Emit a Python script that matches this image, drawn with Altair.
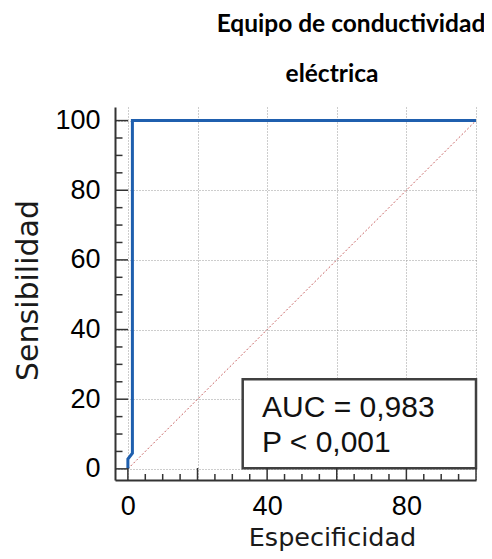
import altair as alt
import pandas as pd

# ROC curve values (100 - specificity, sensitivity)
fpr = [0, 0, 1.3, 1.3, 100]
tpr = [0, 2.8, 4.5, 100, 100]
step = [0, 1, 2, 3, 4]
diag_x = [0, 100]
diag_y = [0, 100]
major_ticks = [0, 20, 40, 60, 80, 100]
minor_ticks = [5, 10, 15, 25, 30, 35, 45, 50, 55, 65, 70, 75, 85, 90, 95]
auc_text = ["AUC = 0,983", "P < 0,001"]
title_lines = ["Equipo de conductividad", "eléctrica"]
x_title = "Especificidad"
y_title = "Sensibilidad"

W, H = 361, 373
PL, PT = 107, 99
xs = alt.Scale(domain=[-3.7, 100], nice=False, zero=False)
ys = alt.Scale(domain=[-3.2, 103.9], nice=False, zero=False)

LABEL_FONT = "Liberation Sans"
TITLE_FONT = "DejaVu Sans"

roc = pd.DataFrame({"x": fpr, "y": tpr, "o": step})
diag = pd.DataFrame({"x": diag_x, "y": diag_y})
one = pd.DataFrame({"a": [0]})

x_axis = alt.Axis(
    values=major_ticks, grid=True, gridDash=[1, 2], gridColor="#9a9a9a", gridWidth=1,
    ticks=False, tickSize=0, domainColor="#333333", domainWidth=2,
    labelExpr="(datum.value == 0 || datum.value == 40 || datum.value == 80) ? datum.label : ''",
    labelFont=LABEL_FONT, labelFontSize=27, labelColor="#000000", labelPadding=13,
    title=x_title, titleFont=TITLE_FONT, titleFontSize=25.5, titleFontWeight="normal",
    titleColor="#1a1a1a", titleX=217, titleY=65, titleAlign="center",
    titleBaseline="alphabetic",
)
y_axis = alt.Axis(
    values=major_ticks, grid=True, gridDash=[1, 2], gridColor="#9a9a9a", gridWidth=1,
    ticks=False, tickSize=0, domainColor="#333333", domainWidth=2,
    labelFont=LABEL_FONT, labelFontSize=27, labelColor="#000000", labelPadding=15,
    title=y_title, titleFont=TITLE_FONT, titleFontSize=30, titleFontWeight="normal",
    titleColor="#1a1a1a", titleX=-78, titleY=183, titleAngle=270, titleAlign="center",
    titleBaseline="alphabetic",
)

X = lambda f: alt.X(f, scale=xs, axis=x_axis, title=x_title)
Y = lambda f: alt.Y(f, scale=ys, axis=y_axis, title=y_title)

diag_line = alt.Chart(diag).mark_line(color="#c86464", strokeWidth=1, strokeDash=[2, 2]).encode(
    x=X("x:Q"), y=Y("y:Q"),
)

box = alt.Chart(one).mark_rect(fill="white", stroke="#404040", strokeWidth=2.5).encode(
    x=alt.value(127.7), x2=alt.value(361), y=alt.value(272.3), y2=alt.value(361.3)
)

auc1 = alt.Chart(one).mark_text(font=LABEL_FONT, fontSize=30, align="left", baseline="alphabetic", color="#111111").encode(
    x=alt.value(147), y=alt.value(309.7), text=alt.value(auc_text[0])
)
auc2 = alt.Chart(one).mark_text(font=LABEL_FONT, fontSize=30, align="left", baseline="alphabetic", color="#111111").encode(
    x=alt.value(147), y=alt.value(344.7), text=alt.value(auc_text[1])
)

curve = alt.Chart(roc).mark_line(color="#1f5fae", strokeWidth=3, strokeJoin="miter").encode(
    x=X("x:Q"), y=Y("y:Q"), order="o:Q",
)

ty_major = alt.Chart(pd.DataFrame({"v": major_ticks})).mark_rule(color="#333333", strokeWidth=1.5).encode(
    y=Y("v:Q"), x=alt.value(0), x2=alt.value(13)
)
ty_minor = alt.Chart(pd.DataFrame({"v": minor_ticks})).mark_rule(color="#333333", strokeWidth=1.5).encode(
    y=Y("v:Q"), x=alt.value(0), x2=alt.value(7.5)
)
tx_major = alt.Chart(pd.DataFrame({"v": major_ticks})).mark_rule(color="#333333", strokeWidth=1.5).encode(
    x=X("v:Q"), y=alt.value(H), y2=alt.value(H - 12)
)
tx_minor = alt.Chart(pd.DataFrame({"v": minor_ticks})).mark_rule(color="#333333", strokeWidth=1.5).encode(
    x=X("v:Q"), y=alt.value(H), y2=alt.value(H - 6)
)

t1 = alt.Chart(one).mark_text(font="Lato", fontSize=24.5, fontWeight="bold", align="center", baseline="alphabetic", color="#000000").encode(
    x=alt.value(236), y=alt.value(-75), text=alt.value(title_lines[0])
)
t2 = alt.Chart(one).mark_text(font="Lato", fontSize=24.5, fontWeight="bold", align="center", baseline="alphabetic", color="#000000").encode(
    x=alt.value(217), y=alt.value(-25), text=alt.value(title_lines[1])
)

chart = alt.layer(
    diag_line, box, auc1, auc2, curve, ty_major, ty_minor, tx_major, tx_minor, t1, t2
).properties(
    width=W, height=H,
    background="white",
    view=alt.ViewBackground(strokeOpacity=0, strokeWidth=0),
    autosize=alt.AutoSizeParams(type="none"),
    padding={"left": PL, "top": PT, "right": 8, "bottom": 71},
).configure_view(strokeOpacity=0, strokeWidth=0)

chart.save("out.html", embed_options={"renderer": "svg", "actions": False})
